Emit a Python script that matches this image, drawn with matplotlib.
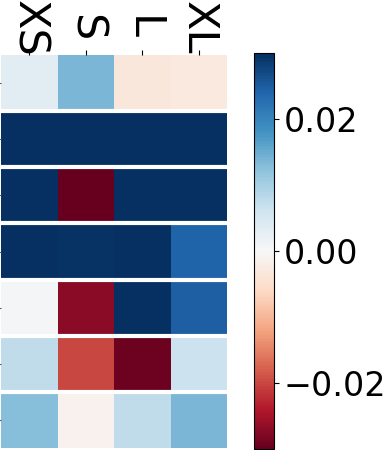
import numpy as np
import matplotlib
matplotlib.use("Agg")
import matplotlib.pyplot as plt

columns = ["XS", "S", "L", "XL"]
row1 = [0.0035, 0.0136, -0.0034, -0.0030]
row2 = [0.035, 0.035, 0.035, 0.035]
row3 = [0.035, -0.035, 0.035, 0.035]
row4 = [0.032, 0.0296, 0.0298, 0.0243]
row5 = [0.0006, -0.0270, 0.033, 0.0248]
row6 = [0.0077, -0.0200, -0.0294, 0.0064]
row7 = [0.0128, -0.0013, 0.0077, 0.0138]
cbar_ticks = [-0.02, 0.0, 0.02]

data = np.array([row1, row2, row3, row4, row5, row6, row7])
nrows, ncols = data.shape

W, H = 390, 450
fig = plt.figure(figsize=(W / 100, H / 100), dpi=100)
ax = fig.add_axes([1 / W, 2 / H, 226 / W, 393 / H])
cax = fig.add_axes([254 / W, 1 / H, 20 / W, 396 / H])

im = ax.pcolormesh(np.arange(ncols + 1), np.arange(nrows + 1), data,
                   cmap="RdBu", vmin=-0.03, vmax=0.03)
ax.set_xlim(0, ncols)
ax.set_ylim(nrows, 0)
for i in range(1, nrows):
    ax.axhline(i, color="white", lw=3)
for s in ax.spines.values():
    s.set_visible(False)

ax.xaxis.tick_top()
ax.set_xticks(np.arange(ncols) + 0.5)
ax.set_xticklabels(columns, rotation=270, fontsize=31, va="center")
ax.tick_params(axis="x", pad=16)
ax.set_yticks(np.arange(nrows) + 0.5)
ax.set_yticklabels([""] * nrows)
ax.tick_params(axis="y", colors="0.35")

cb = fig.colorbar(im, cax=cax)
cb.set_ticks(cbar_ticks)
cb.ax.set_yticklabels(["\u22120.02", "0.00", "0.02"])
cb.ax.tick_params(labelsize=24)

fig.savefig("out.png", dpi=100)
